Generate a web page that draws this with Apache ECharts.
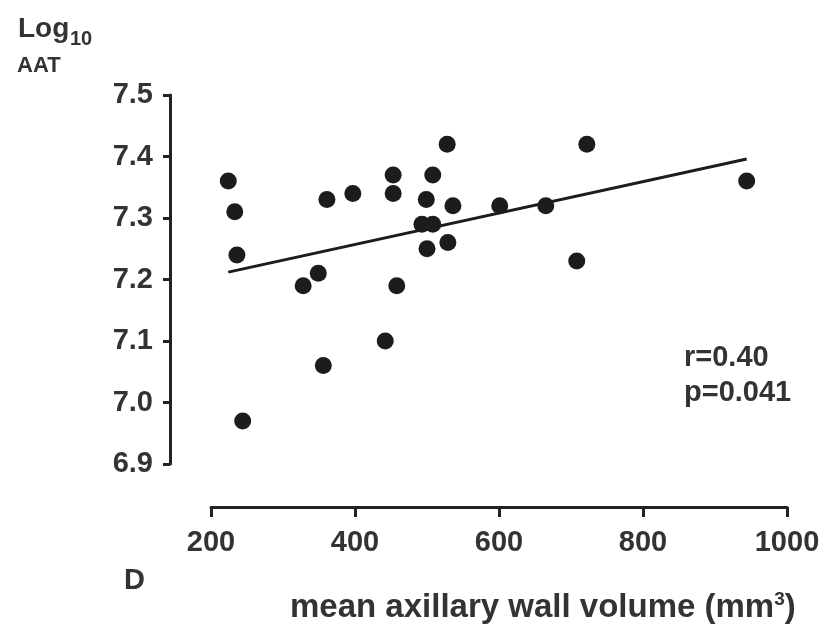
<!DOCTYPE html>
<html>
<head>
<meta charset="utf-8">
<script src="https://cdn.jsdelivr.net/npm/echarts@6/dist/echarts.min.js"></script>
<style>
html, body { margin: 0; padding: 0; background: #fff; }
#chart { width: 826px; height: 627px; }
</style>
</head>
<body>
<div id="chart"></div>
<script>
// mean axillary wall volume (mm3)
const wallVolume = [224, 233, 236, 244, 328, 349, 356, 361, 397, 442, 453, 453, 458,
    493, 499, 500, 508, 508, 528, 529, 536, 601, 665, 708, 722, 944];
// log10 AAT
const logAAT = [7.36, 7.31, 7.24, 6.97, 7.19, 7.21, 7.06, 7.33, 7.34, 7.10, 7.37, 7.34, 7.19,
    7.29, 7.33, 7.25, 7.37, 7.29, 7.42, 7.26, 7.32, 7.32, 7.32, 7.23, 7.42, 7.36];
// fitted line end points
const fitX = [224, 944];
const fitY = [7.212, 7.396];
const xTicks = [200, 400, 600, 800, 1000];
const yTicks = [6.9, 7.0, 7.1, 7.2, 7.3, 7.4, 7.5];

const FONT = "'Liberation Sans', Arial, sans-serif";
const INK = '#1c1c1c';

const chart = echarts.init(document.getElementById('chart'));

const option = {
    backgroundColor: '#fff',
    animation: false,
    grid: { left: 211, right: 39, top: 95, bottom: 163 },
    xAxis: {
        type: 'value',
        min: xTicks[0],
        max: xTicks[xTicks.length - 1],
        interval: xTicks[1] - xTicks[0],
        offset: 43,
        splitLine: { show: false },
        axisLine: { show: true, lineStyle: { color: '#222', width: 3 } },
        axisTick: { show: true, length: 10, lineStyle: { color: '#222', width: 3 } },
        axisLabel: {
            margin: 21, color: '#333', fontSize: 29, fontWeight: 'bold', fontFamily: FONT,
            formatter: v => String(v)
        }
    },
    yAxis: {
        type: 'value',
        min: yTicks[0],
        max: yTicks[yTicks.length - 1],
        interval: 0.1,
        offset: 41,
        splitLine: { show: false },
        axisLine: { show: true, lineStyle: { color: '#222', width: 3 } },
        axisTick: { show: true, length: 7, lineStyle: { color: '#222', width: 3 } },
        axisLabel: {
            margin: 17, color: '#333', fontSize: 29, fontWeight: 'bold', fontFamily: FONT,
            formatter: v => v.toFixed(1)
        }
    },
    series: [
        {
            type: 'line',
            data: fitX.map((x, i) => [x, fitY[i]]),
            showSymbol: false,
            lineStyle: { color: INK, width: 3 },
            z: 1
        },
        {
            type: 'scatter',
            data: wallVolume.map((x, i) => [x, logAAT[i]]),
            symbolSize: 17,
            itemStyle: { color: INK, opacity: 1 },
            z: 2
        }
    ],
    graphic: [
        { type: 'text', left: 18, top: 15, style: { text: 'Log', fill: '#333', font: `bold 28px ${FONT}` } },
        { type: 'text', left: 70, top: 29, style: { text: '10', fill: '#333', font: `bold 20px ${FONT}` } },
        { type: 'text', left: 17, top: 55, style: { text: 'AAT', fill: '#333', font: `bold 22px ${FONT}` } },
        { type: 'text', left: 684, top: 343, style: { text: 'r=0.40', fill: '#333', font: `bold 29px ${FONT}` } },
        { type: 'text', left: 684, top: 378, style: { text: 'p=0.041', fill: '#333', font: `bold 29px ${FONT}` } },
        { type: 'text', left: 124, top: 566, style: { text: 'D', fill: '#333', font: `bold 29px ${FONT}` } },
        {
            type: 'text', left: 290, top: 590,
            style: {
                text: 'mean axillary wall volume (mm{sup|3})',
                fill: '#333',
                font: `bold 33px ${FONT}`,
                rich: { sup: { fontSize: 19, fontWeight: 'bold', fontFamily: FONT, fill: '#333', verticalAlign: 'top', padding: [0, 0, 16, 0] } }
            }
        }
    ]
};

chart.setOption(option);
</script>
</body>
</html>
